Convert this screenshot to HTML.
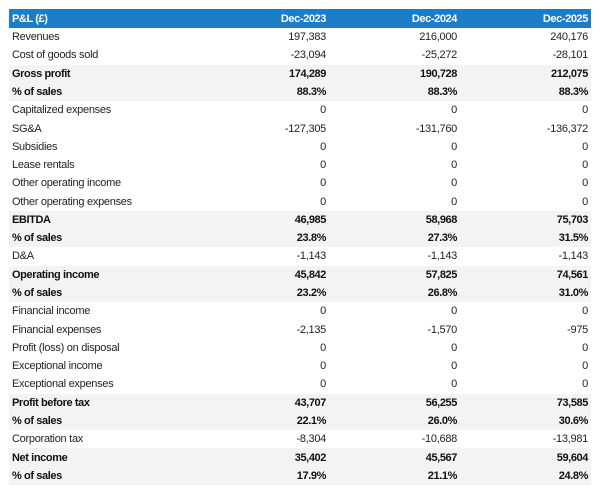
<!DOCTYPE html>
<html><head><meta charset="utf-8"><style>
html,body{margin:0;padding:0;background:#fff;}
body{width:600px;height:495px;position:relative;overflow:hidden;font-family:"Liberation Sans",Arial,sans-serif;font-size:11px;letter-spacing:-0.28px;color:#222;}
.hdr{position:absolute;left:9px;top:9px;width:582px;height:19px;background:#1b7cc7;color:#fff;font-weight:bold;letter-spacing:-0.4px;}
.row{position:absolute;left:9px;width:582px;height:18.28px;}
.g{background:#f3f3f3;}
.b{font-weight:bold;color:#111;letter-spacing:-0.4px;}
.c{position:absolute;top:0;height:100%;display:flex;align-items:center;white-space:nowrap;}
.l{left:3px;}
.v1{right:265px;}
.v2{right:134px;}
.v3{right:3px;}
</style></head><body>
<div class="hdr"><div class="c l">P&amp;L (£)</div><div class="c v1">Dec-2023</div><div class="c v2">Dec-2024</div><div class="c v3">Dec-2025</div></div>

<div class="row" style="top:28px"><div class="c l">Revenues</div><div class="c v1">197,383</div><div class="c v2">216,000</div><div class="c v3">240,176</div></div>
<div class="row" style="top:46.28px"><div class="c l">Cost of goods sold</div><div class="c v1">-23,094</div><div class="c v2">-25,272</div><div class="c v3">-28,101</div></div>
<div class="row g b" style="top:64.56px"><div class="c l">Gross profit</div><div class="c v1">174,289</div><div class="c v2">190,728</div><div class="c v3">212,075</div></div>
<div class="row g b" style="top:82.84px"><div class="c l">% of sales</div><div class="c v1">88.3%</div><div class="c v2">88.3%</div><div class="c v3">88.3%</div></div>
<div class="row" style="top:101.12px"><div class="c l">Capitalized expenses</div><div class="c v1">0</div><div class="c v2">0</div><div class="c v3">0</div></div>
<div class="row" style="top:119.4px"><div class="c l">SG&amp;A</div><div class="c v1">-127,305</div><div class="c v2">-131,760</div><div class="c v3">-136,372</div></div>
<div class="row" style="top:137.68px"><div class="c l">Subsidies</div><div class="c v1">0</div><div class="c v2">0</div><div class="c v3">0</div></div>
<div class="row" style="top:155.96px"><div class="c l">Lease rentals</div><div class="c v1">0</div><div class="c v2">0</div><div class="c v3">0</div></div>
<div class="row" style="top:174.24px"><div class="c l">Other operating income</div><div class="c v1">0</div><div class="c v2">0</div><div class="c v3">0</div></div>
<div class="row" style="top:192.52px"><div class="c l">Other operating expenses</div><div class="c v1">0</div><div class="c v2">0</div><div class="c v3">0</div></div>
<div class="row g b" style="top:210.8px"><div class="c l">EBITDA</div><div class="c v1">46,985</div><div class="c v2">58,968</div><div class="c v3">75,703</div></div>
<div class="row g b" style="top:229.08px"><div class="c l">% of sales</div><div class="c v1">23.8%</div><div class="c v2">27.3%</div><div class="c v3">31.5%</div></div>
<div class="row" style="top:247.36px"><div class="c l">D&amp;A</div><div class="c v1">-1,143</div><div class="c v2">-1,143</div><div class="c v3">-1,143</div></div>
<div class="row g b" style="top:265.64px"><div class="c l">Operating income</div><div class="c v1">45,842</div><div class="c v2">57,825</div><div class="c v3">74,561</div></div>
<div class="row g b" style="top:283.92px"><div class="c l">% of sales</div><div class="c v1">23.2%</div><div class="c v2">26.8%</div><div class="c v3">31.0%</div></div>
<div class="row" style="top:302.2px"><div class="c l">Financial income</div><div class="c v1">0</div><div class="c v2">0</div><div class="c v3">0</div></div>
<div class="row" style="top:320.48px"><div class="c l">Financial expenses</div><div class="c v1">-2,135</div><div class="c v2">-1,570</div><div class="c v3">-975</div></div>
<div class="row" style="top:338.76px"><div class="c l">Profit (loss) on disposal</div><div class="c v1">0</div><div class="c v2">0</div><div class="c v3">0</div></div>
<div class="row" style="top:357.04px"><div class="c l">Exceptional income</div><div class="c v1">0</div><div class="c v2">0</div><div class="c v3">0</div></div>
<div class="row" style="top:375.32px"><div class="c l">Exceptional expenses</div><div class="c v1">0</div><div class="c v2">0</div><div class="c v3">0</div></div>
<div class="row g b" style="top:393.6px"><div class="c l">Profit before tax</div><div class="c v1">43,707</div><div class="c v2">56,255</div><div class="c v3">73,585</div></div>
<div class="row g b" style="top:411.88px"><div class="c l">% of sales</div><div class="c v1">22.1%</div><div class="c v2">26.0%</div><div class="c v3">30.6%</div></div>
<div class="row" style="top:430.16px"><div class="c l">Corporation tax</div><div class="c v1">-8,304</div><div class="c v2">-10,688</div><div class="c v3">-13,981</div></div>
<div class="row g b" style="top:448.44px"><div class="c l">Net income</div><div class="c v1">35,402</div><div class="c v2">45,567</div><div class="c v3">59,604</div></div>
<div class="row g b" style="top:466.72px"><div class="c l">% of sales</div><div class="c v1">17.9%</div><div class="c v2">21.1%</div><div class="c v3">24.8%</div></div>
</body></html>
